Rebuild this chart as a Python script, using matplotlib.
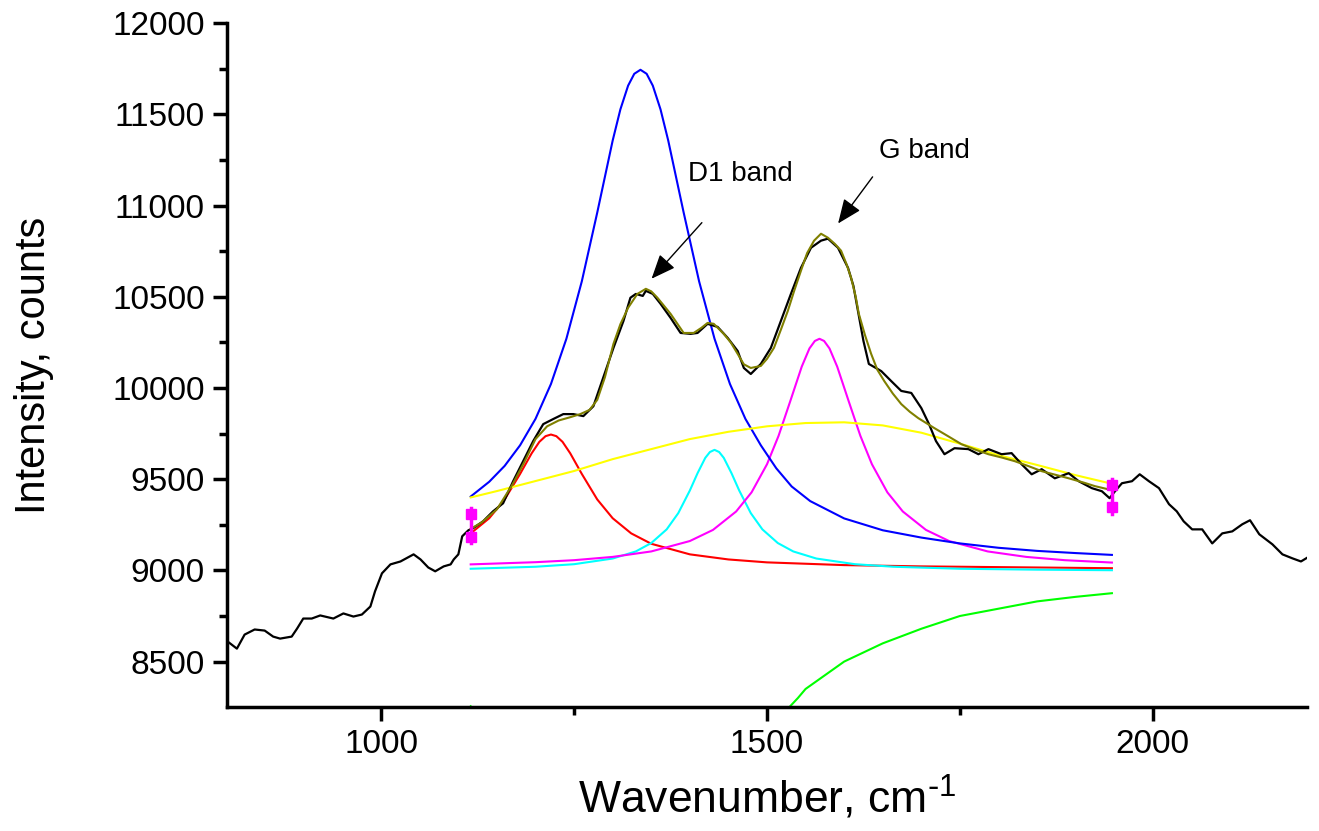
import matplotlib
matplotlib.use("Agg")
import matplotlib.pyplot as plt

plt.rcParams['font.family'] = ['Liberation Sans', 'DejaVu Sans']
plt.rcParams['mathtext.default'] = 'regular'

# measured spectrum (black)
spec_x = [801, 813, 823, 836, 849, 860, 869, 884, 891, 899, 910, 921, 938, 951, 964, 975,
          986, 992, 1001, 1012, 1025, 1042, 1051, 1061, 1070, 1081, 1090, 1094, 1100, 1105,
          1113, 1119, 1132, 1145, 1158, 1171, 1184, 1197, 1210, 1223, 1236, 1249, 1262, 1275,
          1288, 1301, 1314, 1323, 1330, 1339, 1343, 1352, 1362, 1375, 1388, 1401, 1410, 1423,
          1436, 1449, 1462, 1470, 1479, 1492, 1505, 1518, 1531, 1544, 1557, 1570, 1579, 1592,
          1605, 1612, 1618, 1625, 1632, 1648, 1661, 1674, 1687, 1700, 1710, 1719, 1730, 1743,
          1761, 1774, 1787, 1804, 1817, 1830, 1843, 1856, 1873, 1891, 1904, 1921, 1934, 1944,
          1951, 1960, 1973, 1983, 1995, 2008, 2021, 2031, 2040, 2051, 2064, 2077, 2090, 2103,
          2116, 2126, 2138, 2155, 2168, 2181, 2192, 2203]
spec_y = [8610, 8571, 8648, 8676, 8670, 8637, 8626, 8637, 8681, 8736, 8736, 8753, 8736, 8764, 8747, 8758,
          8802, 8885, 8984, 9033, 9049, 9088, 9060, 9016, 8995, 9022, 9033, 9060, 9088, 9187,
          9220, 9231, 9269, 9324, 9368, 9489, 9599, 9709, 9802, 9830, 9857, 9857, 9846, 9900,
          10060, 10220, 10368, 10495, 10516, 10505, 10533, 10516, 10462, 10385, 10302, 10297, 10302, 10352,
          10335, 10275, 10203, 10110, 10077, 10132, 10220, 10368, 10516, 10659, 10769, 10808, 10819, 10769,
          10659, 10560, 10420, 10258, 10132, 10093, 10038, 9984, 9973, 9890, 9802, 9709, 9637, 9670,
          9665, 9637, 9665, 9637, 9643, 9582, 9527, 9555, 9505, 9533, 9489, 9451, 9434, 9396,
          9434, 9478, 9489, 9527, 9489, 9451, 9363, 9324, 9269, 9225, 9225, 9148, 9203, 9214,
          9253, 9275, 9198, 9143, 9088, 9066, 9049, 9077]

# cumulative fit (olive)
fit_x = [1116, 1130, 1150, 1170, 1185, 1200, 1215, 1230, 1245, 1258, 1270, 1280, 1290, 1301, 1310,
         1320, 1332, 1343, 1350, 1358, 1375, 1392, 1405, 1415, 1423, 1431, 1444, 1453, 1462, 1470,
         1479, 1492, 1500, 1509, 1518, 1527, 1535, 1544, 1552, 1561, 1570, 1579, 1588, 1596, 1603,
         1609, 1615, 1619, 1627, 1635, 1643, 1652, 1663, 1674, 1685, 1696, 1717, 1735, 1752, 1770,
         1787, 1805, 1821, 1840, 1856, 1875, 1891, 1910, 1925, 1947]
fit_y = [9228, 9262, 9335, 9470, 9590, 9720, 9790, 9822, 9840, 9857, 9880, 9935, 10060, 10242, 10350,
         10440, 10516, 10544, 10530, 10495, 10407, 10302, 10302, 10330, 10357, 10352, 10297, 10250, 10187, 10130,
         10110, 10121, 10160, 10220, 10320, 10423, 10530, 10643, 10740, 10808, 10846, 10824, 10790, 10753, 10680,
         10604, 10500, 10407, 10290, 10187, 10100, 10038, 9970, 9912, 9870, 9835, 9780, 9735, 9692, 9662,
         9637, 9618, 9599, 9570, 9544, 9523, 9505, 9482, 9462, 9440]

# D1 component (blue)
d1_x = [1116, 1140, 1160, 1180, 1200, 1220, 1240, 1260, 1280, 1300, 1310, 1320, 1328, 1336, 1344,
        1352, 1362, 1372, 1392, 1412, 1432, 1452, 1472, 1492, 1512, 1532, 1556, 1600, 1650, 1700,
        1750, 1800, 1850, 1900, 1947]
d1_y = [9405, 9486, 9573, 9686, 9831, 10022, 10270, 10585, 10962, 11357, 11528, 11658, 11723, 11745, 11723,
        11658, 11528, 11357, 10962, 10585, 10270, 10022, 9831, 9686, 9560, 9460, 9380, 9285, 9220, 9180,
        9148, 9124, 9107, 9095, 9085]

# D4 component (red)
d4_x = [1116, 1140, 1160, 1180, 1195, 1205, 1213, 1220, 1227, 1235, 1245, 1260, 1280, 1300, 1324,
        1350, 1400, 1450, 1500, 1600, 1700, 1800, 1947]
d4_y = [9203, 9286, 9389, 9529, 9642, 9705, 9736, 9745, 9736, 9705, 9642, 9529, 9389, 9286, 9203,
        9146, 9088, 9060, 9044, 9029, 9022, 9018, 9012]

# D3 component (cyan)
d3_x = [1116, 1200, 1250, 1300, 1330, 1350, 1370, 1385, 1400, 1410, 1420, 1426, 1432, 1438, 1444,
        1454, 1464, 1479, 1494, 1514, 1534, 1564, 1614, 1664, 1750, 1850, 1947]
d3_y = [9009, 9020, 9034, 9065, 9104, 9150, 9225, 9314, 9438, 9533, 9617, 9649, 9661, 9649, 9617,
        9533, 9438, 9314, 9225, 9150, 9104, 9065, 9034, 9020, 9009, 9004, 9001]

# G component (magenta)
g_x = [1116, 1200, 1250, 1300, 1350, 1400, 1430, 1460, 1480, 1500, 1515, 1530, 1545, 1555, 1562,
       1568, 1574, 1581, 1591, 1606, 1621, 1636, 1656, 1676, 1706, 1736, 1786, 1836, 1886, 1947]
g_y = [9033, 9045, 9056, 9074, 9104, 9161, 9222, 9323, 9428, 9582, 9738, 9926, 10117, 10217, 10258,
       10270, 10258, 10217, 10117, 9926, 9738, 9582, 9428, 9323, 9222, 9161, 9104, 9074, 9056, 9043]

# broad component (yellow)
br_x = [1116, 1150, 1200, 1250, 1300, 1350, 1400, 1450, 1500, 1550, 1600, 1650, 1700, 1750, 1800,
        1850, 1900, 1947]
br_y = [9400, 9435, 9490, 9545, 9610, 9665, 9720, 9760, 9790, 9808, 9812, 9795, 9755, 9695, 9632,
        9578, 9522, 9475]

# baseline component (green)
bl_x = [1116, 1150, 1200, 1250, 1300, 1350, 1400, 1450, 1500, 1520, 1530, 1540, 1550, 1600, 1650,
        1700, 1750, 1800, 1850, 1900, 1947]
bl_y = [8255, 8120, 7900, 7700, 7560, 7540, 7650, 7850, 8080, 8200, 8255, 8300, 8350, 8500, 8600,
        8680, 8750, 8790, 8830, 8855, 8875]

# fit range markers
lim_x = [1116, 1947]
lim_lo = [9181, 9346]
lim_hi = [9308, 9467]
lim_bottom = [9148, 9308]
lim_top = [9341, 9500]

fig = plt.figure(figsize=(13.19, 8.31), dpi=100)
ax = fig.add_axes([0.172, 0.149, 0.819, 0.823])

ax.plot(bl_x, bl_y, color='#00ff00', lw=1.5)
ax.plot(d4_x, d4_y, color='#ff0000', lw=1.5)
ax.plot(d3_x, d3_y, color='#00ffff', lw=1.5)
ax.plot(g_x, g_y, color='#ff00ff', lw=1.5)
ax.plot(d1_x, d1_y, color='#0000ff', lw=1.5)
ax.plot(br_x, br_y, color='#ffff00', lw=1.5)
ax.plot(spec_x, spec_y, color='black', lw=1.6)
ax.plot(fit_x, fit_y, color='#808000', lw=1.5)

for i in range(2):
    ax.plot([lim_x[i], lim_x[i]], [lim_bottom[i], lim_top[i]], color='#ff00ff', lw=2.5)
    ax.plot([lim_x[i], lim_x[i]], [lim_lo[i], lim_hi[i]], 's', color='#ff00ff', ms=7)

ax.annotate('', xy=(1348, 10588), xytext=(1418, 10918),
            arrowprops=dict(arrowstyle='-|>,head_length=0.6,head_width=0.25', color='black',
                            lw=1, mutation_scale=25))
ax.annotate('', xy=(1590, 10890), xytext=(1639, 11170),
            arrowprops=dict(arrowstyle='-|>,head_length=0.6,head_width=0.25', color='black',
                            lw=1, mutation_scale=25))
ax.text(1397, 11176, 'D1 band', fontsize=20, va='center', ha='left')
ax.text(1645, 11302, 'G band', fontsize=20, va='center', ha='left')

ax.set_xlim(800, 2200)
ax.set_ylim(8250, 12000)
ax.set_xticks([1000, 1500, 2000])
ax.set_xticks([1250, 1750], minor=True)
ax.set_yticks(range(8500, 12001, 500))
ax.set_yticks(range(8750, 12000, 500), minor=True)

for s in ['top', 'right']:
    ax.spines[s].set_visible(False)
for s in ['left', 'bottom']:
    ax.spines[s].set_linewidth(2.5)
ax.tick_params(which='major', direction='out', length=10, width=2.5, labelsize=24, pad=6)
ax.tick_params(which='minor', direction='out', length=6, width=2.5)

ax.set_xlabel(r'Wavenumber, cm$^{\text{-}1}$', fontsize=32, labelpad=10)
ax.set_ylabel('Intensity, counts', fontsize=30)
ax.yaxis.set_label_coords(-0.16, 0.5)

plt.savefig('out.png', dpi=100)
